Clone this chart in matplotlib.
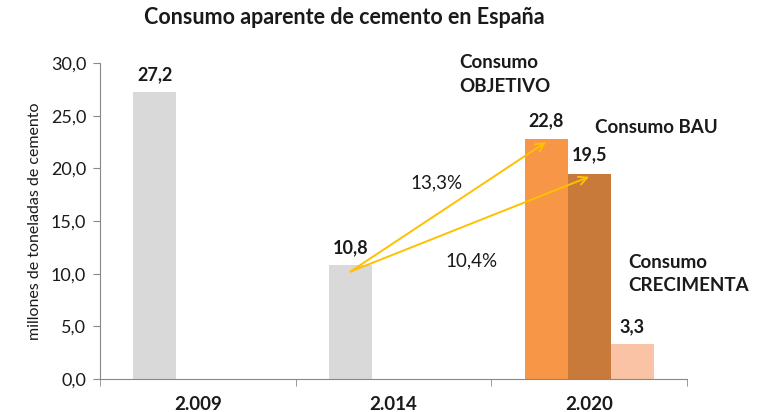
import matplotlib
matplotlib.use("Agg")
import matplotlib.pyplot as plt
from matplotlib.ticker import FuncFormatter, FixedLocator
import numpy as np

plt.rcParams['font.family'] = ['Lato', 'DejaVu Sans']

categories = ["2.009", "2.014", "2.020"]
historico = [27.2, 10.8, 0.0]      # gray bars
objetivo = [0.0, 0.0, 22.8]
bau = [0.0, 0.0, 19.5]
crecimenta = [0.0, 0.0, 3.3]
tasas = ["13,3%", "10,4%"]
title = "Consumo aparente de cemento en España"
ylabel = "millones de toneladas de cemento"

fmt = lambda v: f"{v:.1f}".replace('.', ',')
TXT = '#1a1a1a'

fig = plt.figure(figsize=(7.63, 4.12), dpi=100)
ax = fig.add_axes([100/763, 1-379/412, (687-100)/763, (379-63)/412])

x = np.arange(len(categories))
w = 0.22
ax.bar(x[:2] - w, historico[:2], w, color='#D9D9D9')
ax.bar(x[2] - w, objetivo[2], w, color='#F79646')
ax.bar(x[2], bau[2], w, color='#C77A3A')
ax.bar(x[2] + w, crecimenta[2], w, color='#FAC3A6')

ax.set_xlim(-0.5, 2.5)
ax.set_ylim(0, 30)
ax.yaxis.set_major_locator(FixedLocator(np.arange(0, 31, 5)))
ax.yaxis.set_major_formatter(FuncFormatter(lambda v, p: fmt(v)))
ax.set_xticks(x)
ax.set_xticklabels(categories, fontweight='bold', fontsize=13.5, color=TXT)
ax.set_xticks([-0.5, 0.5, 1.5, 2.5], minor=True)
ax.tick_params(axis='x', which='major', length=0, pad=12)
ax.tick_params(axis='x', which='minor', length=5, color='#888888', direction='out')
ax.tick_params(axis='y', length=5, color='#888888', labelsize=13, labelcolor=TXT, pad=5)
for s in ['top', 'right']:
    ax.spines[s].set_visible(False)
for s in ['left', 'bottom']:
    ax.spines[s].set_color('#888888')
ax.set_ylabel(ylabel, fontsize=11.5, color=TXT, labelpad=6)

# value labels
lab_kw = dict(ha='center', va='center', fontweight='bold', fontsize=13, color=TXT)
off = 1.7
ax.text(x[0] - w, historico[0] + off, fmt(historico[0]), **lab_kw)
ax.text(x[1] - w, historico[1] + off, fmt(historico[1]), **lab_kw)
ax.text(x[2] - w, objetivo[2] + off, fmt(objetivo[2]), **lab_kw)
ax.text(x[2], bau[2] + off + 0.1, fmt(bau[2]), **lab_kw)
ax.text(x[2] + w, crecimenta[2] + off, fmt(crecimenta[2]), **lab_kw)

# series labels
ser_kw = dict(ha='left', va='center', fontweight='bold', fontsize=13.5, color=TXT, linespacing=1.45)
ax.text(1.337, 28.9, "Consumo\nOBJETIVO", **ser_kw)
ax.text(2.03, 23.9, "Consumo BAU", **ser_kw)
ax.text(2.2, 10.0, "Consumo\nCRECIMENTA", **ser_kw)

# arrows
arr = dict(arrowstyle='->', color='#FFC000', lw=1.4, mutation_scale=15, shrinkA=0, shrinkB=0)
x0, y0 = x[1] - w, historico[1] - 0.6
ax.annotate('', xy=(x[2] - w, objetivo[2] - 0.3), xytext=(x0, y0), arrowprops=arr)
ax.annotate('', xy=(x[2], bau[2] - 0.3), xytext=(x0, y0), arrowprops=arr)
ax.text(1.22, 18.6, tasas[0], ha='center', va='center', fontsize=13.5, color=TXT)
ax.text(1.40, 11.2, tasas[1], ha='center', va='center', fontsize=13.5, color=TXT)

fig.text(344/763, 1-18/412, title, ha='center', va='center', fontweight='bold', fontsize=15.5, color=TXT)

fig.savefig('out.png', dpi=100)
